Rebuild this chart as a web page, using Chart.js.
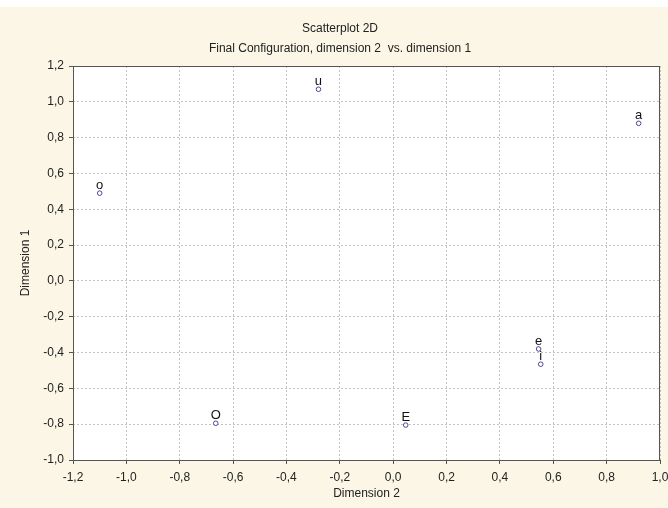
<!DOCTYPE html>
<html>
<head>
<meta charset="utf-8">
<script src="https://cdn.jsdelivr.net/npm/chart.js@4.4.0/dist/chart.umd.min.js"></script>
<style>
  html, body { margin: 0; padding: 0; background: #fbf6e6; }
  #box { width: 668px; height: 508px; }
</style>
</head>
<body>
<div id="box"><canvas id="grafico" width="668" height="508"></canvas></div>
<script>
// dados
const rotulos = ['o', 'u', 'a', 'e', 'i', 'O', 'E'];
const dimensao2 = [-1.10, -0.28, 0.92, 0.545, 0.553, -0.665, 0.047];
const dimensao1 = [0.49, 1.07, 0.88, -0.38, -0.465, -0.795, -0.805];
const ticksX = [-1.2, -1.0, -0.8, -0.6, -0.4, -0.2, 0.0, 0.2, 0.4, 0.6, 0.8, 1.0];
const ticksY = [-1.0, -0.8, -0.6, -0.4, -0.2, 0.0, 0.2, 0.4, 0.6, 0.8, 1.0, 1.2];

const fonte = "'Liberation Sans', Arial, sans-serif";

function formataVirgula(v) {
  const r = Math.round(v * 10) / 10;
  return (r === 0 ? 0 : r).toFixed(1).replace('.', ',');
}

// fundo creme, área do gráfico branca, moldura e rótulos dos pontos
const pluginFundo = {
  id: 'fundo',
  beforeDraw(chart) {
    const ctx = chart.ctx;
    const a = chart.chartArea;
    ctx.save();
    ctx.fillStyle = '#fbf6e6';
    ctx.fillRect(0, 0, chart.width, chart.height);
    ctx.fillStyle = '#ffffff';
    ctx.fillRect(0, 0, chart.width, 7);
    ctx.fillRect(a.left, a.top, a.right - a.left, a.bottom - a.top);
    ctx.fillStyle = '#222';
    ctx.font = '12px ' + fonte;
    ctx.textAlign = 'center';
    ctx.textBaseline = 'middle';
    ctx.fillText('Scatterplot 2D', 340, 29);
    ctx.fillText('Final Configuration, dimension 2  vs. dimension 1', 340, 49);
    ctx.restore();
  },
  afterDraw(chart) {
    const ctx = chart.ctx;
    const a = chart.chartArea;
    ctx.save();
    ctx.strokeStyle = '#555';
    ctx.lineWidth = 1;
    ctx.strokeRect(a.left + 0.5, a.top + 0.5, a.right - a.left - 1, a.bottom - a.top);
    const sx = chart.scales.x;
    const sy = chart.scales.y;
    ctx.fillStyle = '#111';
    ctx.font = '13px ' + fonte;
    ctx.textAlign = 'center';
    ctx.textBaseline = 'alphabetic';
    rotulos.forEach((r, i) => {
      const px = sx.getPixelForValue(dimensao2[i]);
      const py = sy.getPixelForValue(dimensao1[i]);
      ctx.fillText(r, px, py - 4);
    });
    ctx.restore();
  },
};

const ctx = document.getElementById('grafico').getContext('2d');
const chart = new Chart(ctx, {
  type: 'scatter',
  data: {
    datasets: [
      {
        label: 'Configuração',
        data: dimensao2.map((x, i) => ({ x: x, y: dimensao1[i] })),
        pointRadius: 2.3,
        pointBorderWidth: 1,
        pointBorderColor: '#4a4a9a',
        pointBackgroundColor: '#ffffff',
      },
    ],
  },
  options: {
    responsive: false,
    animation: false,
    layout: { padding: { top: 66, left: 0, right: 8, bottom: 0 } },
    plugins: {
      legend: { display: false },
      tooltip: { enabled: false },
      title: { display: false },
    },
    scales: {
      x: {
        type: 'linear',
        min: -1.2,
        max: 1.0,
        afterBuildTicks: (s) => { s.ticks = ticksX.map((v) => ({ value: v })); },
        afterFit: (s) => {
          s.height = 48;
          s.paddingLeft = 0;
          s.paddingRight = 0;
        },
        ticks: {
          callback: (v) => formataVirgula(v),
          color: '#222',
          font: { family: fonte, size: 12 },
          padding: 6,
          maxRotation: 0,
          autoSkip: false,
        },
        grid: {
          color: '#c2c2c2',
          tickColor: '#555',
          tickLength: 4,
          drawTicks: true,
        },
        border: { display: false, dash: [2, 2] },
        title: {
          display: true,
          text: 'Dimension 2',
          color: '#222',
          font: { family: fonte, size: 12 },
          padding: { top: 0, bottom: 7 },
        },
      },
      y: {
        type: 'linear',
        min: -1.0,
        max: 1.2,
        afterBuildTicks: (s) => { s.ticks = ticksY.map((v) => ({ value: v })); },
        afterFit: (s) => {
          s.width = 73;
          s.paddingTop = 0;
          s.paddingBottom = 0;
        },
        ticks: {
          callback: (v) => formataVirgula(v),
          color: '#222',
          font: { family: fonte, size: 12 },
          padding: 5,
          autoSkip: false,
        },
        grid: {
          color: '#c2c2c2',
          tickColor: '#555',
          tickLength: 4,
        },
        border: { display: false, dash: [2, 2] },
        title: {
          display: true,
          text: 'Dimension 1',
          color: '#222',
          font: { family: fonte, size: 12 },
          padding: { top: 18, bottom: 0 },
        },
      },
    },
  },
  plugins: [pluginFundo],
});
</script>
</body>
</html>
